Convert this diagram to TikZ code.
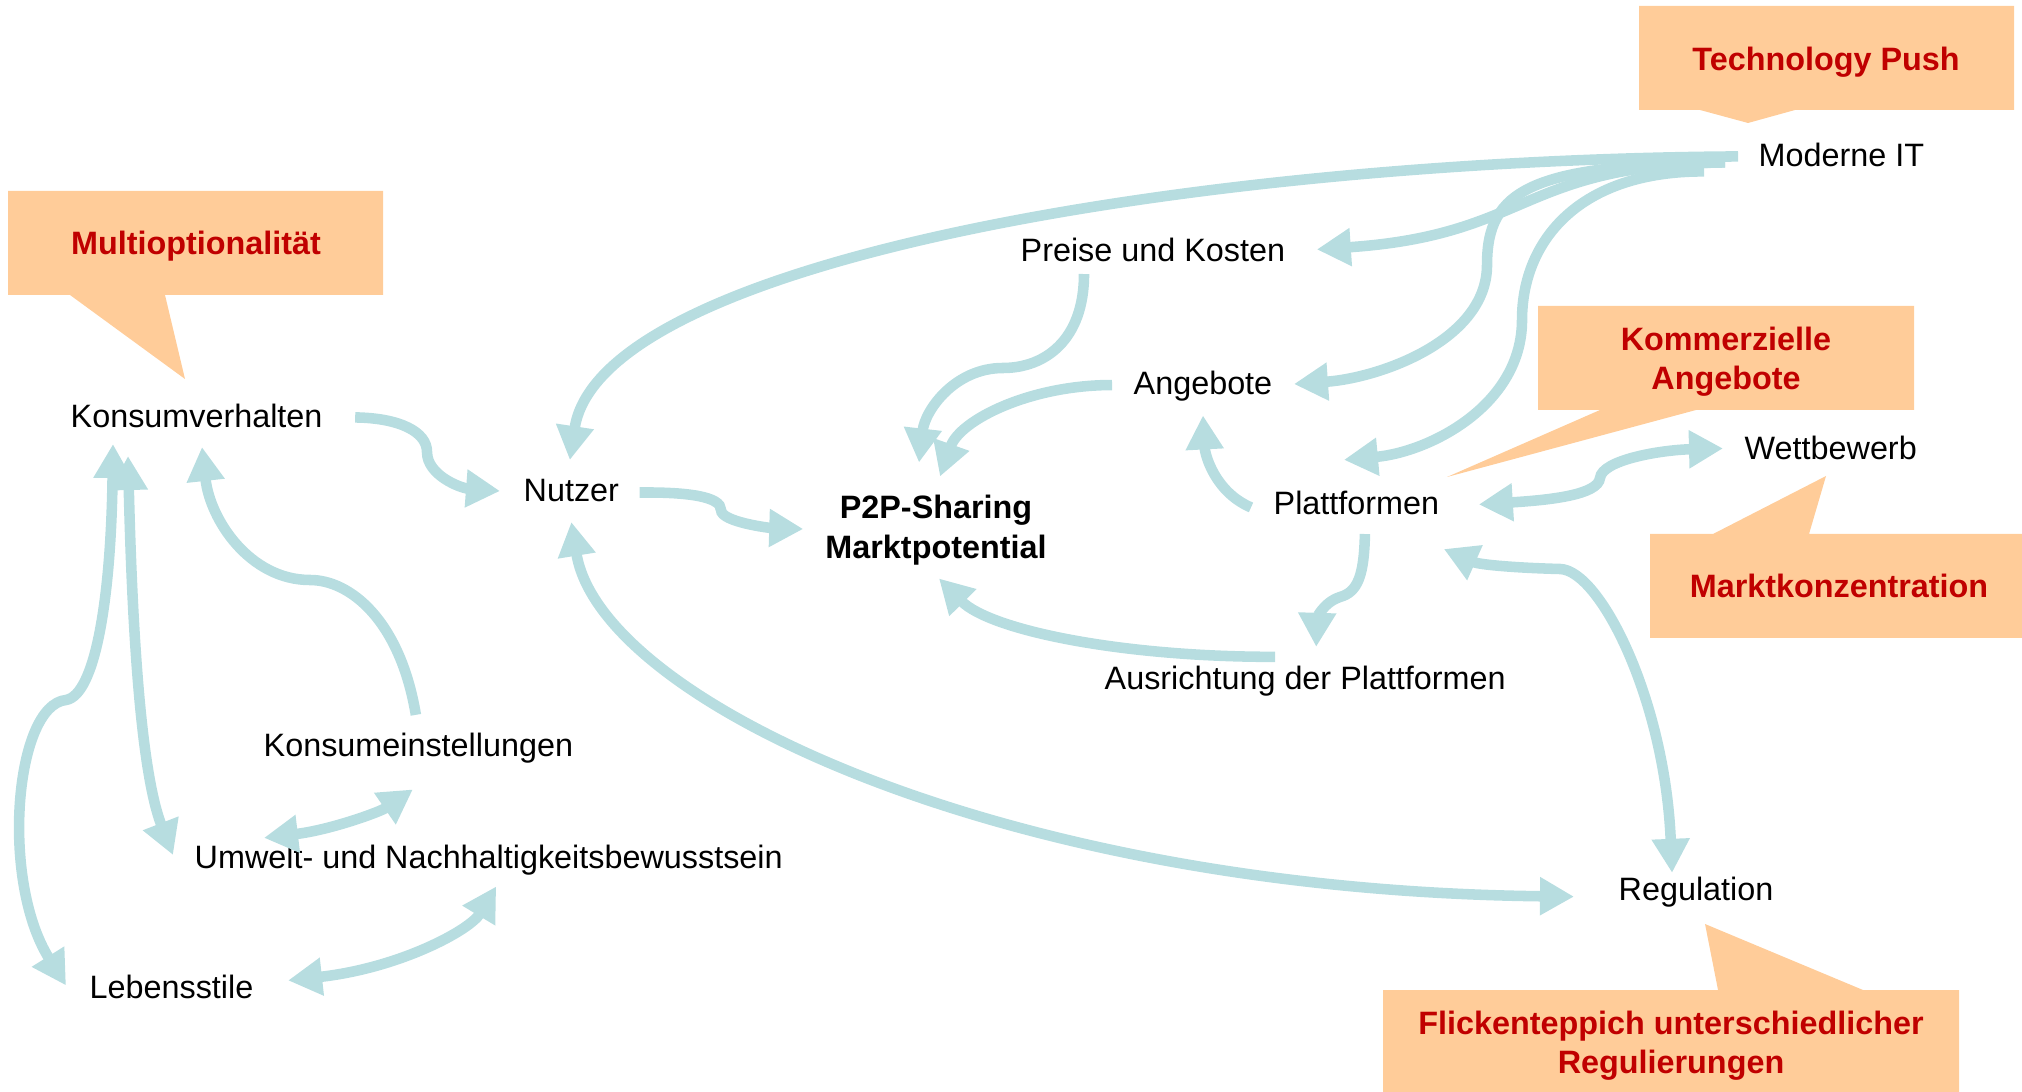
\documentclass[tikz,border=0pt]{standalone}
\usepackage{fontspec}
\setmainfont{Liberation Sans}
\usetikzlibrary{arrows.meta,calc}
\definecolor{linkcol}{RGB}{183,221,224}
\definecolor{notefill}{RGB}{255,204,153}
\definecolor{notetext}{RGB}{192,0,0}

\begin{document}
\begin{tikzpicture}[x=0.01cm, y=-0.01cm, >={Triangle[length=3.4mm, width=3.6mm]},
    every node/.style={inner sep=0pt, font=\fontsize{9.2}{11.2}\selectfont},
    factor/.style={anchor=base west},
    note/.style={font=\fontsize{9.2}{11.2}\selectfont\bfseries, text=notetext, align=center},
    bubble/.style={fill=notefill},
    link/.style={draw=linkcol, line width=3pt, ->},
    both/.style={link, <->}]
    \useasboundingbox (0,0) rectangle (2022,1092);

    \fill[bubble] (1639,6) -- (2014,6) -- (2014,110) -- (1795,110) -- (1748,123) -- (1700,110) -- (1639,110) -- cycle;
    \fill[bubble] (8,191) -- (383,191) -- (383,295) -- (165,295) -- (185,379) -- (70,295) -- (8,295) -- cycle;
    \fill[bubble] (1538,306) -- (1914,306) -- (1914,410) -- (1696,410) -- (1447,477) -- (1600,410) -- (1538,410) -- cycle;
    \fill[bubble] (1650,534) -- (1713,534) -- (1826,476) -- (1809,534) -- (2022,534) -- (2022,638) -- (1650,638) -- cycle;
    \fill[bubble] (1383,990) -- (1718,990) -- (1705,924) -- (1863,990) -- (1959,990) -- (1959,1092) -- (1383,1092) -- cycle;

    \node[note, anchor=base] (techpush) at (1826,71) {Technology Push};
    \node[note, anchor=base] (multiopt) at (196,255) {Multioptionalität};
    \node[note] (kommerz) at (1726,362) {Kommerzielle\\Angebote};
    \node[note, anchor=base] (marktkonz) at (1839,598) {Marktkonzentration};
    \node[note] (flicken) at (1671,1046) {Flickenteppich unterschiedlicher\\Regulierungen};

    \foreach \name/\x/\y/\txt in {moderne/1758/167/Moderne IT, konsumverh/70/428/Konsumverhalten,
        nutzer/523/502/Nutzer, preise/1020/262/Preise und Kosten, angebote/1133/395/Angebote,
        plattformen/1273/515/Plattformen, wettbewerb/1744/460/Wettbewerb,
        ausrichtung/1104/690/Ausrichtung der Plattformen, regulation/1618/900/Regulation,
        konsumeinst/263/756/Konsumeinstellungen, umwelt/194/868/Umwelt- und Nachhaltigkeitsbewusstsein,
        lebensstile/89/998/Lebensstile} {
        \node[factor] (\name) at (\x,\y) {\txt};
    }
    \node[font=\fontsize{9.2}{11.2}\selectfont\bfseries, align=center] (p2p) at (936,530) {P2P-Sharing\\Marktpotential};

    \draw[link] ($(moderne.west)+(-20,1)$) .. controls (1200,160) and (600,260) .. ($(nutzer.north)+(-1.5,-19)$);
    \draw[link] ($(moderne.west)+(-33,7)$) .. controls (1520,165) and (1530,235) .. ($(preise.east)+(31,-1)$);
    \draw[link] ($(moderne.west)+(-33,7)$) .. controls (1530,165) and (1487,190) .. (1487,265) .. controls (1487,340) and (1380,378) .. ($(angebote.east)+(21,-2.6)$);
    \draw[link] ($(moderne.west)+(-54,16)$) .. controls (1580,171) and (1522,240) .. (1522,320) .. controls (1522,405) and (1430,452) .. ($(plattformen.north)+(-12.5,-31)$);

    \draw[link] ($(preise.south west)+(64,11)$) .. controls (1084,340) and (1045,368) .. (1003,368) .. controls (955,368) and (925,410) .. ($(p2p.north)+(-17,-32)$);
    \draw[link] ($(angebote.west)+(-21,-1.6)$) .. controls (1030,385) and (960,420) .. ($(p2p.north)+(4,-18)$);
    \draw[link] ($(nutzer.east)+(20,1.5)$) .. controls (690,492) and (721,497) .. (721,510) .. controls (721,522) and (770,528) .. ($(p2p.west)+(-21.5,-1)$);
    \draw[link] ($(plattformen.west)+(-22,4)$) .. controls (1215,492) and (1205,455) .. ($(angebote.south)+(0,13)$);
    \draw[link] ($(plattformen.south)+(8.5,18)$) .. controls (1364,575) and (1358,592) .. (1340,597) .. controls (1322,603) and (1317,620) .. ($(ausrichtung.north)+(11,-19)$);
    \draw[link] ($(ausrichtung.north)+(-30,-9)$) .. controls (1120,657) and (990,630) .. ($(p2p.south)+(3,13)$);
    \draw[both] ($(plattformen.east)+(39,1)$) .. controls (1550,500) and (1598,495) .. (1600,478) .. controls (1602,460) and (1660,450) .. ($(wettbewerb.west)+(-21,0)$);
    \draw[both] ($(plattformen.south east)+(4,33)$) .. controls (1480,565) and (1520,568) .. (1560,569) .. controls (1600,570) and (1665,700) .. ($(regulation.north)+(-24,-3)$);
    \draw[both] ($(nutzer.south)+(0,19)$) .. controls (600,700) and (1000,890) .. ($(regulation.west)+(-44,5)$);

    \draw[link] ($(konsumverh.east)+(32,1)$) .. controls (400,418) and (427,432) .. (427,452) .. controls (427,475) and (460,488) .. ($(nutzer.west)+(-23,0)$);
    \draw[both] ($(konsumverh.south west)+(43,15)$) .. controls (111,600) and (95,695) .. (66,700) .. controls (15,705) and (0,880) .. ($(lebensstile.west)+(-23,-1)$);
    \draw[both] ($(konsumverh.south west)+(58,27)$) .. controls (132,620) and (140,770) .. ($(umwelt.west)+(-21,-4.6)$);
    \draw[link] ($(konsumeinst.north)+(-2.5,-17)$) .. controls (400,620) and (350,580) .. (310,580) .. controls (250,580) and (210,520) .. ($(konsumverh.south west)+(132,18)$);
    \draw[both] ($(umwelt.north west)+(70,-6)$) .. controls (330,830) and (380,812) .. ($(konsumeinst.south)+(-5.5,26)$);
    \draw[both] ($(lebensstile.east)+(34,-6)$) .. controls (400,968) and (470,930) .. ($(umwelt.south)+(7.5,11)$);
\end{tikzpicture}
\end{document}
